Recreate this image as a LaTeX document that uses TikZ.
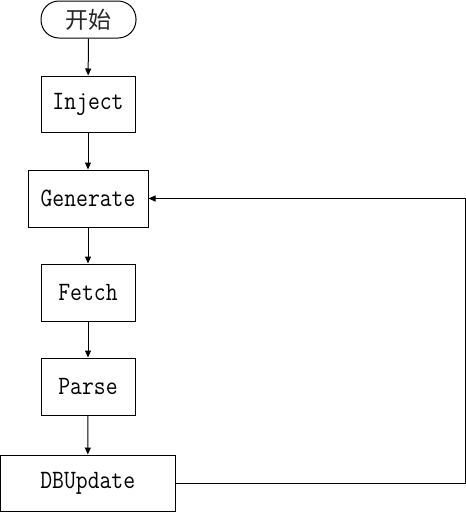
\documentclass[tikz,border=0pt]{standalone}
\usepackage{fontspec}
\usetikzlibrary{arrows.meta}
\newfontfamily\cjkfnt{Noto Sans CJK SC}
\begin{document}
\begin{tikzpicture}[x=1pt,y=-1pt,
  box/.style={draw,line width=1pt,inner sep=0pt,font=\ttfamily\fontsize{23}{24}\selectfont},
  startbox/.style={draw,line width=1pt,inner sep=0pt,rounded corners=18pt,minimum width=95pt,minimum height=37pt,font=\cjkfnt\fontsize{23}{24}\selectfont},
  flow/.style={line width=1pt,-{Triangle[length=7pt,width=6pt]}}]
\useasboundingbox (0,0) rectangle (466,512);
\node[startbox] (start) at (88.5,19.5) {\textcolor{black!85}{开始}};
\node[box,minimum width=94pt,minimum height=56pt] (inject) at (88,104) {\scalebox{1}[1.15]{Inject}};
\node[box,minimum width=120pt,minimum height=57pt] (gen) at (88,198.5) {\scalebox{1}[1.15]{Generate}};
\node[box,minimum width=94pt,minimum height=57pt] (fetch) at (88,292.5) {\scalebox{1}[1.15]{Fetch}};
\node[box,minimum width=94pt,minimum height=57pt] (parse) at (88,386.5) {\scalebox{1}[1.15]{Parse}};
\node[box,minimum width=174.5pt,minimum height=56pt] (db) at (87.75,483) {\scalebox{1}[1.15]{DBUpdate}};
\coordinate (corner) at (465,483);
\draw[flow] (start) -- (inject);
\draw[flow] (inject) -- (gen);
\draw[flow] (gen) -- (fetch);
\draw[flow] (fetch) -- (parse);
\draw[flow] (parse) -- (db);
\draw[flow] (db.east) -- (corner) |- (gen.east);
\end{tikzpicture}
\end{document}
